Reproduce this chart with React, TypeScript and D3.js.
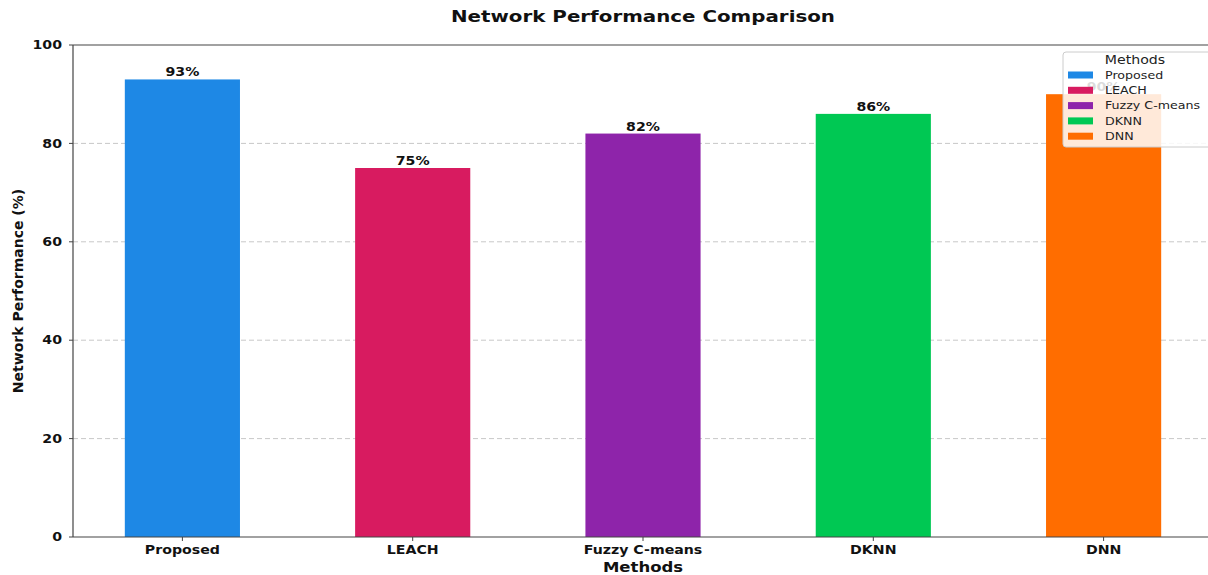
import React, { useEffect, useRef } from "react";
import * as d3 from "d3";

const categories = ["Proposed", "LEACH", "Fuzzy C-means", "DKNN", "DNN"];
const values = [93, 75, 82, 86, 90];
const colors = ["#1E88E5", "#D81B60", "#8E24AA", "#00C853", "#FF6D00"];
const yTicks = [0, 20, 40, 60, 80, 100];

const W = 1208;
const H = 575;
const M = { left: 73, top: 45, bottom: 537 };
const FONT = "DejaVu Sans, Verdana, sans-serif";
const SX = 1.18;

export default function App() {
  const ref = useRef<SVGSVGElement>(null);
  useEffect(() => {
    const svg = d3.select(ref.current);
    svg.selectAll("*").remove();
    const x = d3.scaleLinear().domain([-0.475, 4.475]).range([M.left, 1213]);
    const y = d3.scaleLinear().domain([0, 100]).range([M.bottom, M.top]);
    const bw = x(0.5) - x(0);

    const txt = (g: any, tx: number, ty: number, s: string, opts: any = {}) => {
      const t = g.append("text")
        .attr("transform", `translate(${tx},${ty}) scale(${opts.sx ?? SX},1)`)
        .attr("text-anchor", opts.anchor ?? "middle")
        .attr("font-family", FONT)
        .attr("font-weight", opts.weight ?? "bold")
        .attr("font-size", opts.size ?? 12)
        .attr("fill", opts.fill ?? "#111")
        .text(s);
      if (opts.dy) t.attr("dy", opts.dy);
      return t;
    };

    svg.append("rect").attr("width", W).attr("height", H).attr("fill", "#fff");

    // grid
    svg.append("g").selectAll("line").data(yTicks.filter(t => t > 0 && t < 100)).join("line")
      .attr("x1", M.left).attr("x2", W).attr("y1", d => y(d)).attr("y2", d => y(d))
      .attr("stroke", "#c8c8c8").attr("stroke-width", 1).attr("stroke-dasharray", "5,3");

    // bars
    svg.append("g").selectAll("rect").data(values).join("rect")
      .attr("x", (d, i) => x(i) - bw / 2).attr("width", bw)
      .attr("y", d => y(d)).attr("height", d => y(0) - y(d))
      .attr("fill", (d, i) => colors[i]);

    // value labels
    const vg = svg.append("g");
    values.forEach((v, i) => txt(vg, x(i), y(v) - 3, `${v}%`));

    // spines
    const sp = svg.append("g").attr("stroke", "#444").attr("stroke-width", 1.2);
    sp.append("line").attr("x1", M.left).attr("x2", M.left).attr("y1", M.top).attr("y2", M.bottom);
    sp.append("line").attr("x1", M.left).attr("x2", W).attr("y1", M.bottom).attr("y2", M.bottom);
    sp.append("line").attr("x1", M.left).attr("x2", W).attr("y1", M.top).attr("y2", M.top);

    // y ticks
    const yg = svg.append("g");
    yTicks.forEach(t => {
      yg.append("line").attr("x1", M.left - 4).attr("x2", M.left).attr("y1", y(t)).attr("y2", y(t))
        .attr("stroke", "#444");
      txt(yg, M.left - 11, y(t), String(t), { anchor: "end", dy: "0.35em" });
    });
    // x ticks
    const xg = svg.append("g");
    categories.forEach((c, i) => {
      xg.append("line").attr("x1", x(i)).attr("x2", x(i)).attr("y1", M.bottom).attr("y2", M.bottom + 4)
        .attr("stroke", "#444");
      txt(xg, x(i), M.bottom + 17, c);
    });

    // axis labels & title
    txt(svg, 643, 572, "Methods", { size: 14 });
    svg.append("text").attr("transform", `translate(23,${(M.top + M.bottom) / 2}) rotate(-90)`)
      .attr("text-anchor", "middle").attr("font-family", FONT).attr("font-weight", "bold")
      .attr("font-size", 14).attr("fill", "#111").text("Network Performance (%)");
    txt(svg, 643, 22, "Network Performance Comparison", { size: 16, sx: 1.24 });

    // legend
    const lg = svg.append("g");
    lg.append("rect").attr("x", 1063).attr("y", 52).attr("width", 160).attr("height", 95).attr("rx", 3)
      .attr("fill", "#fff").attr("fill-opacity", 0.85).attr("stroke", "#ccc");
    txt(lg, 1135, 64, "Methods", { weight: "normal", size: 12, fill: "#222" });
    categories.forEach((c, i) => {
      const yy = 75 + i * 15.3;
      lg.append("rect").attr("x", 1068).attr("y", yy - 3.5).attr("width", 25).attr("height", 7)
        .attr("fill", colors[i]);
      txt(lg, 1105, yy, c, { anchor: "start", weight: "normal", size: 11, fill: "#222", dy: "0.35em", sx: 1.15 });
    });
  }, []);
  return (
    <svg ref={ref} width={W} height={H} style={{ position: "absolute", left: 0, top: 0 }} />
  );
}
